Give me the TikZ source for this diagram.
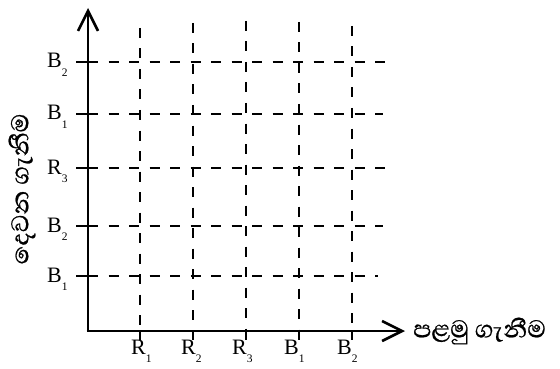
\documentclass[tikz,border=0pt]{standalone}
\usepackage{fontspec}
\setmainfont{Liberation Serif}
\newfontfamily\sinhala[Script=Sinhala,FakeBold=0.7]{Abhaya Libre}
\usetikzlibrary{arrows.meta,calc}
\newcommand{\lab}[2]{\fontsize{22}{22}\selectfont #1\raisebox{-0.4em}{\fontsize{11.5}{11.5}\selectfont #2}}
\begin{document}
\begin{tikzpicture}[x=1pt,y=-1pt,
  axis/.style={line width=2.6pt,-{Straight Barb[length=20pt,width=20pt,line width=2.6pt]}},
  grid/.style={line width=2.2pt,dash pattern=on 10pt off 10.5pt},
  tick/.style={line width=2.2pt},
  lbl/.style={inner sep=0pt,anchor=base west},
  sin/.style={inner sep=0pt,font=\sinhala\fontsize{31}{31}\selectfont}]
\useasboundingbox (0,0) rectangle (560,369);
\coordinate (O) at (88,331);
\coordinate (Ytop) at (88,8);
\coordinate (Xend) at (405,331);
% horizontal grid lines
\foreach \y/\xe/\l/\s in {62/385/B/2,114/383/B/1,168/388/R/3,226/383/B/2,276/378/B/1}{
  \draw[tick] (76,\y) -- (88,\y);
  \draw[grid] (88,\y) -- (\xe,\y);
  \node[lbl] at (47,\y+6) {\lab{\l}{\s}};
}
% vertical grid lines
\foreach \x/\yt/\lx/\l/\s in {140/28/131/R/1,193/23/181/R/2,246/21/232/R/3,299/22/284/B/1,352/26/337/B/2}{
  \draw[grid] (\x,\yt) -- (\x,331);
  \draw[tick] (\x,331) -- (\x,340);
  \node[lbl] at (\lx,354) {\lab{\l}{\s}};
}
% axes
\draw[axis] (O) -- (Ytop);
\draw[axis] ($(O)+(-1.3,0)$) -- (Xend);
\node[sin,anchor=west] (xl) at (413,331) {පළමු ගැනීම};
\node[sin,rotate=90] (yl) at (22,189) {දෙවන ගැනීම};
\end{tikzpicture}
\end{document}
